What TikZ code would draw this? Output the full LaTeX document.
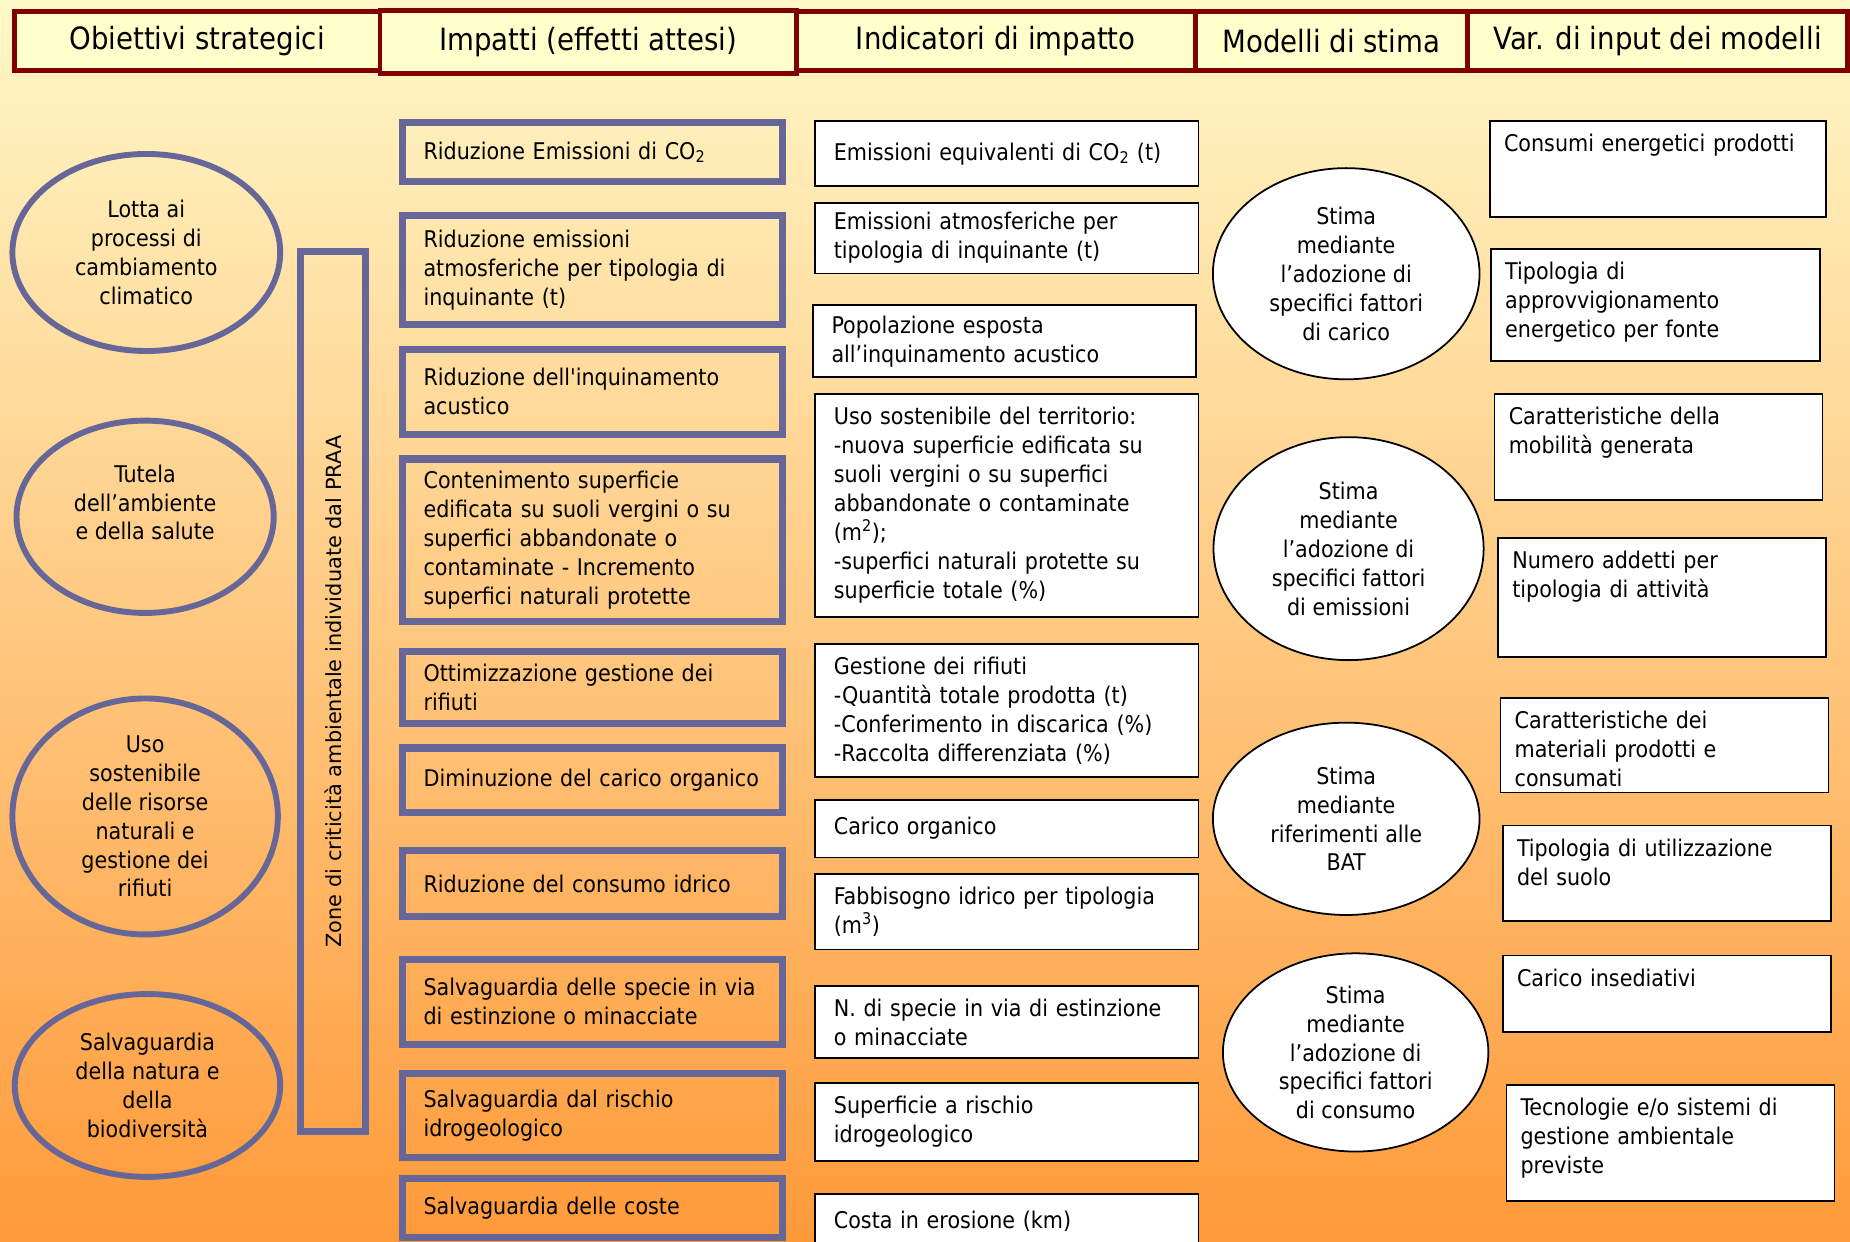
\documentclass[tikz,border=0pt]{standalone}
\usepackage{fontspec}
\usepackage{tikz}
\usetikzlibrary{shapes.geometric}
\newfontfamily\tahoma{DejaVu Sans Condensed}
\newfontfamily\verd{DejaVu Sans}
\newcommand{\txtfont}{\tahoma\fontsize{19.5}{24.5}\selectfont}
\newcommand{\hdfont}{\tahoma\fontsize{26}{30}\selectfont}
\newcommand{\zonefont}{\verd\fontsize{17.7}{20}\selectfont}
\definecolor{hdred}{HTML}{800000}
\definecolor{hdfill}{HTML}{FFFFCC}
\definecolor{praa}{HTML}{666699}
\definecolor{bgtop}{HTML}{FFF8C8}
\definecolor{bgbot}{HTML}{FF9A3A}
\tikzstyle{headbox}=[rectangle, draw=hdred, line width=4pt, fill=hdfill,
                     anchor=north west, minimum height=50pt, inner sep=0pt, font=\hdfont]
\tikzstyle{goal}=[ellipse, draw=praa, line width=5pt, align=center,
                  inner sep=0pt, font=\txtfont]
\tikzstyle{zonebox}=[rectangle, draw=praa, line width=6pt, rotate=90,
                     minimum width=746pt, minimum height=55pt, font=\zonefont]
\tikzstyle{impact}=[rectangle, draw=praa, line width=6pt, anchor=north west,
                    text width=286pt, inner xsep=18pt, inner ysep=4pt, align=left, font=\txtfont]
\tikzstyle{indic}=[rectangle, draw, line width=1.5pt, fill=white, anchor=north west,
                   text width=293pt, inner xsep=16pt, inner ysep=4pt, align=left, font=\txtfont]
\tikzstyle{model}=[ellipse, draw, line width=1.5pt, fill=white, align=center,
                   inner sep=0pt, font=\txtfont]
\tikzstyle{invar}=[rectangle, draw, line width=1.5pt, fill=white, anchor=north west,
                   text width=254pt, inner xsep=12pt, inner ysep=12pt, text height=14pt,
                   align=left, font=\txtfont]

\begin{document}
\begin{tikzpicture}[x=1pt,y=-1pt]
  \useasboundingbox (0,0) rectangle (1568,1052);
  \clip (0,0) rectangle (1568,1052);
  \path[top color=bgtop, bottom color=bgbot] (0,0) rectangle (1568,1052);

  % intestazioni
  \node[headbox, minimum width=310pt] (hobj) at (10,8) {Obiettivi strategici};
  \node[headbox, minimum width=353pt, minimum height=53pt] (himp) at (320,7) {Impatti (effetti attesi)};
  \node[headbox, minimum width=338pt] (hind) at (673,8) {Indicatori di impatto};
  \node[headbox, minimum width=231pt] (hmod) at (1011,8) {Modelli di stima};
  \node[headbox, minimum width=322pt] (hvar) at (1242,8) {Var. di input dei modelli};

  % obiettivi
  \node[goal, minimum width=227pt, minimum height=167pt] (clima) at (124,214)
    {Lotta ai\\processi di\\cambiamento\\climatico};
  \node[goal, minimum width=218pt, minimum height=163pt] (salute) at (123,438)
    {Tutela\\dell’ambiente\\e della salute\\\mbox{}};
  \node[goal, minimum width=225pt, minimum height=200pt] (risorse) at (123,692)
    {Uso\\sostenibile\\delle risorse\\naturali e\\gestione dei\\rifiuti};
  \node[goal, minimum width=225pt, minimum height=155pt] (natura) at (125,920)
    {Salvaguardia\\della natura e\\della\\biodiversità};
  \node[zonebox] (zone) at (282.5,586) {Zone di criticità ambientale individuate dal PRAA};

  % impatti
  \node[impact, minimum height=50pt] (co2) at (338,101) {Riduzione Emissioni di CO\textsubscript{2}};
  \node[impact, minimum height=92pt] (atmo) at (338,180)
    {Riduzione emissioni\\atmosferiche per tipologia di\\inquinante (t)};
  \node[impact, minimum height=72pt] (acust) at (338,293)
    {Riduzione dell'inquinamento\\acustico};
  \node[impact, minimum height=138pt] (suolo) at (338,386)
    {Contenimento superficie\\edificata su suoli vergini o su\\superfici abbandonate o\\contaminate - Incremento\\superfici naturali protette};
  \node[impact, minimum height=61pt] (rifiuti) at (338,549)
    {Ottimizzazione gestione dei\\rifiuti};
  \node[impact, minimum height=55pt] (organico) at (338,631)
    {Diminuzione del carico organico};
  \node[impact, minimum height=56pt] (idrico) at (338,718)
    {Riduzione del consumo idrico};
  \node[impact, minimum height=72pt] (specie) at (338,810)
    {Salvaguardia delle specie in via\\di estinzione o minacciate};
  \node[impact, minimum height=71pt] (idrogeo) at (338,907)
    {Salvaguardia dal rischio\\idrogeologico};
  \node[impact, minimum height=50pt] (coste) at (338,996)
    {Salvaguardia delle coste};

  % indicatori
  \node[indic, minimum height=55pt] (ico2) at (690,102)
    {Emissioni equivalenti di CO\textsubscript{2} (t)\\[6pt]};
  \node[indic, minimum height=60pt] (iatmo) at (690,171)
    {Emissioni atmosferiche per\\tipologia di inquinante (t)};
  \node[indic, minimum height=61pt] (iacust) at (688,258)
    {Popolazione esposta\\all’inquinamento acustico};
  \node[indic, minimum height=189pt] (isuolo) at (690,333)
    {Uso sostenibile del territorio:\\-nuova superficie edificata su\\suoli vergini o su superfici\\abbandonate o contaminate\\(m\textsuperscript{2});\\-superfici naturali protette su\\superficie totale (\%)};
  \node[indic, minimum height=113pt] (irifiuti) at (690,545)
    {Gestione dei rifiuti\\-Quantità totale prodotta (t)\\-Conferimento in discarica (\%)\\-Raccolta differenziata (\%)};
  \node[indic, minimum height=49pt] (iorg) at (690,677) {Carico organico};
  \node[indic, minimum height=64pt] (iidrico) at (690,740)
    {Fabbisogno idrico per tipologia\\(m\textsuperscript{3})};
  \node[indic, minimum height=61pt] (ispecie) at (690,835)
    {N. di specie in via di estinzione\\o minacciate};
  \node[indic, minimum height=66pt] (iidrogeo) at (690,917)
    {Superficie a rischio\\idrogeologico};
  \node[indic, minimum height=46pt] (icoste) at (690,1011) {Costa in erosione (km)};

  % modelli
  \node[model, minimum width=226pt, minimum height=179pt] (mcarico) at (1141,232)
    {Stima\\mediante\\l’adozione di\\specifici fattori\\di carico};
  \node[model, minimum width=229pt, minimum height=189pt] (memiss) at (1143,465)
    {Stima\\mediante\\l’adozione di\\specifici fattori\\di emissioni};
  \node[model, minimum width=226pt, minimum height=163pt] (mbat) at (1141,694)
    {Stima\\mediante\\riferimenti alle\\BAT};
  \node[model, minimum width=225pt, minimum height=168pt] (mcons) at (1149,892)
    {Stima\\mediante\\l’adozione di\\specifici fattori\\di consumo};

  % variabili di input
  \node[invar, text width=261pt, text depth=43pt] (vcons) at (1262,102)
    {Consumi energetici prodotti};
  \node[invar, text width=255pt, text depth=57pt] (vappr) at (1263,210)
    {Tipologia di\\approvvigionamento\\energetico per fonte};
  \node[invar, text depth=52pt] (vmob) at (1266,333)
    {Caratteristiche della\\mobilità generata};
  \node[invar, text depth=63pt] (vadd) at (1269,455)
    {Numero addetti per\\tipologia di attività};
  \node[invar, text depth=42pt] (vmat) at (1271,591)
    {Caratteristiche dei\\materiali prodotti e\\consumati};
  \node[invar, text depth=43pt] (vutil) at (1273,699)
    {Tipologia di utilizzazione\\del suolo};
  \node[invar, text depth=27pt] (vins) at (1273,809)
    {Carico insediativi};
  \node[invar, text depth=60pt] (vtec) at (1276,919)
    {Tecnologie e/o sistemi di\\gestione ambientale\\previste};
\end{tikzpicture}
\end{document}
